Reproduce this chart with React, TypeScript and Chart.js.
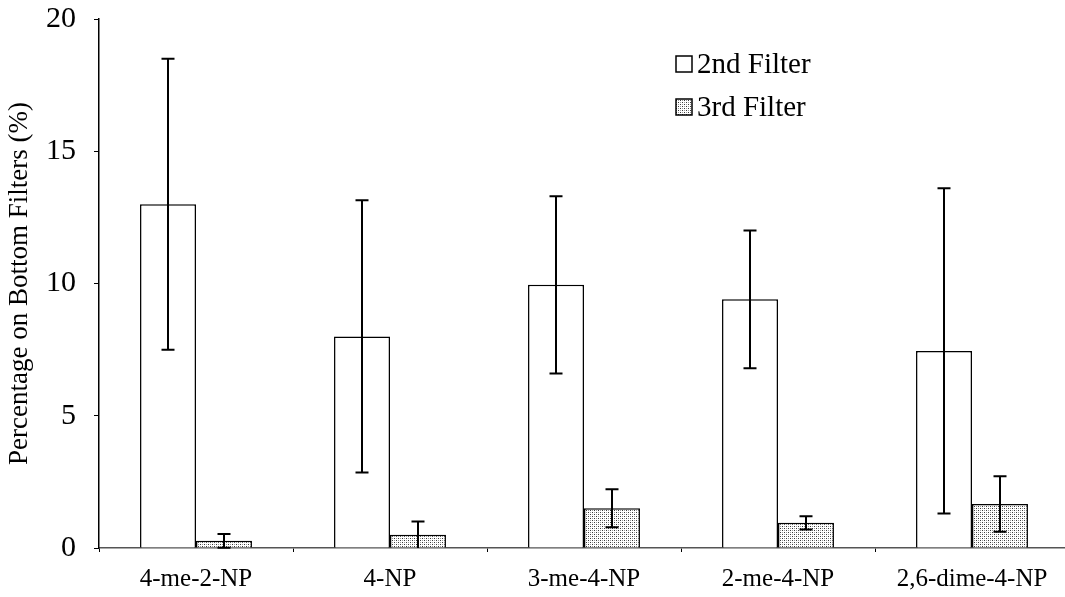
import React, { useEffect, useRef } from "react";
import { Chart, registerables } from "chart.js";

Chart.register(...registerables);

// Compounds on the x axis
const categories = ["4-me-2-NP", "4-NP", "3-me-4-NP", "2-me-4-NP", "2,6-dime-4-NP"];

// Percentage retained on bottom filters (%)
const secondFilter = [13.0, 8.0, 9.95, 9.4, 7.45];
const secondFilterErr = [5.5, 5.15, 3.35, 2.6, 6.15];
const thirdFilter = [0.27, 0.5, 1.5, 0.95, 1.66];
const thirdFilterErr = [0.26, 0.5, 0.72, 0.25, 1.05];

const seriesLabels = ["2nd Filter", "3rd Filter"];
const yTicks = [0, 5, 10, 15, 20];

const SERIF = "'Liberation Serif', 'Times New Roman', serif";

function makeDotPattern(): CanvasPattern | string {
  const tile = document.createElement("canvas");
  tile.width = 4;
  tile.height = 4;
  const c = tile.getContext("2d");
  if (!c) return "#ccc";
  c.fillStyle = "#ffffff";
  c.fillRect(0, 0, 4, 4);
  c.fillStyle = "#3a3a3a";
  c.fillRect(0, 0, 1, 1);
  c.fillRect(2, 2, 1, 1);
  c.fillStyle = "#9a9a9a";
  c.fillRect(2, 0, 1, 1);
  c.fillRect(0, 2, 1, 1);
  const p = c.createPattern(tile, "repeat");
  return p || "#ccc";
}

export default function App() {
  const canvasRef = useRef<HTMLCanvasElement | null>(null);

  useEffect(() => {
    const canvas = canvasRef.current;
    if (!canvas) return;
    const dots = makeDotPattern();
    const errors = [secondFilterErr, thirdFilterErr];

    const errorBars = {
      id: "errorBars",
      afterDatasetsDraw(chart: any) {
        const ctx = chart.ctx;
        const y = chart.scales.y;
        ctx.save();
        ctx.strokeStyle = "#000";
        ctx.lineWidth = 2;
        chart.data.datasets.forEach((ds: any, di: number) => {
          const meta = chart.getDatasetMeta(di);
          meta.data.forEach((bar: any, i: number) => {
            const v = ds.data[i];
            const e = errors[di][i];
            const top = y.getPixelForValue(v + e);
            const bot = y.getPixelForValue(Math.max(0, v - e));
            const x = Math.round(bar.x);
            const half = 6.5;
            ctx.beginPath();
            ctx.moveTo(x, top);
            ctx.lineTo(x, bot);
            ctx.moveTo(x - half, top);
            ctx.lineTo(x + half, top);
            if (v - e > 0) {
              ctx.moveTo(x - half, bot);
              ctx.lineTo(x + half, bot);
            }
            ctx.stroke();
          });
        });
        ctx.restore();
      },
    };

    const legendBox = {
      id: "legendBox",
      afterDraw(chart: any) {
        const ctx = chart.ctx;
        const fills = ["#ffffff", dots];
        const x0 = 676;
        const rows = [64, 107];
        ctx.save();
        ctx.font = `29px ${SERIF}`;
        ctx.textBaseline = "middle";
        ctx.textAlign = "left";
        rows.forEach((cy, i) => {
          ctx.fillStyle = fills[i];
          ctx.fillRect(x0, cy - 8, 16, 16);
          ctx.strokeStyle = "#000";
          ctx.lineWidth = 1.5;
          ctx.strokeRect(x0, cy - 8, 16, 16);
          ctx.fillStyle = "#000";
          ctx.fillText(seriesLabels[i], x0 + 21, cy + 1);
        });
        ctx.restore();
      },
    };

    const chart = new Chart(canvas, {
      type: "bar",
      data: {
        labels: categories,
        datasets: [
          {
            label: seriesLabels[0],
            data: secondFilter,
            backgroundColor: "#ffffff",
            borderColor: "#000",
            borderWidth: 1.5,
            categoryPercentage: 0.577,
            barPercentage: 1,
          },
          {
            label: seriesLabels[1],
            data: thirdFilter,
            backgroundColor: dots as any,
            borderColor: "#000",
            borderWidth: 1.5,
            categoryPercentage: 0.577,
            barPercentage: 1,
          },
        ],
      },
      options: {
        animation: false,
        responsive: true,
        maintainAspectRatio: false,
        layout: { padding: { top: 19, right: 0, bottom: 0, left: 0 } },
        plugins: {
          legend: { display: false },
          tooltip: { enabled: false },
        },
        scales: {
          x: {
            afterFit(scale: any) {
              scale.height = 49;
            },
            grid: {
              drawOnChartArea: false,
              drawTicks: true,
              tickLength: 4,
              color: "#000",
            },
            border: { color: "#555", width: 1.5 },
            ticks: {
              color: "#000",
              padding: 12,
              font: { family: SERIF, size: 25 },
            },
          },
          y: {
            min: 0,
            max: 20,
            afterFit(scale: any) {
              scale.width = 99;
              scale.paddingTop = 0;
              scale.paddingBottom = 0;
            },
            afterBuildTicks(scale: any) {
              scale.ticks = yTicks.map((v) => ({ value: v }));
            },
            grid: {
              drawOnChartArea: false,
              drawTicks: true,
              tickLength: 5,
              color: "#000",
            },
            border: { color: "#000", width: 1.5 },
            ticks: {
              color: "#000",
              padding: 18,
              font: { family: SERIF, size: 30 },
            },
            title: {
              display: true,
              text: "Percentage on Bottom Filters (%)",
              color: "#000",
              padding: 4,
              font: { family: SERIF, size: 27 },
            },
          },
        },
      },
      plugins: [errorBars, legendBox],
    });

    return () => chart.destroy();
  }, []);

  return (
    <div style={{ position: "fixed", left: 0, top: 0, width: 1069, height: 597, background: "#fff" }}>
      <canvas ref={canvasRef} />
    </div>
  );
}
